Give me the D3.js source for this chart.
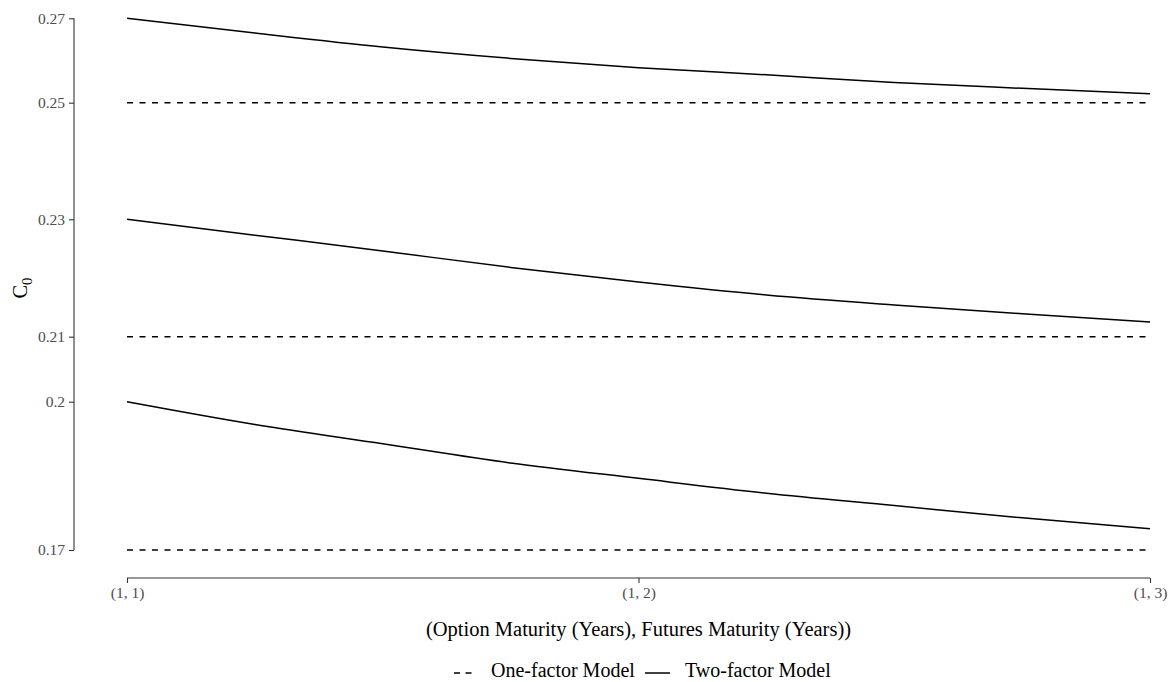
<!DOCTYPE html>
<html>
<head>
<meta charset="utf-8">
<script src="https://cdn.jsdelivr.net/npm/d3@7"></script>
<style>
  html, body { margin: 0; padding: 0; background: #ffffff; }
  svg { display: block; font-family: "Liberation Serif", "Times New Roman", serif; }
</style>
</head>
<body>
<svg id="chart" width="1172" height="682"></svg>
<script>
// Futures maturity (years); option maturity fixed at 1 year
const futuresMaturity = [1, 1.25, 1.5, 1.75, 2, 2.25, 2.5, 2.75, 3];
const xTickValues = [1, 2, 3];
const xTickLabels = ["(1, 1)", "(1, 2)", "(1, 3)"];

// Tick values of C0 shown on the vertical axis
const yTicks = [0.17, 0.2, 0.21, 0.23, 0.25, 0.27];

// One-factor model: price does not depend on futures maturity
const oneFactorLow  = [0.17, 0.17, 0.17, 0.17, 0.17, 0.17, 0.17, 0.17, 0.17];
const oneFactorMid  = [0.21, 0.21, 0.21, 0.21, 0.21, 0.21, 0.21, 0.21, 0.21];
const oneFactorHigh = [0.25, 0.25, 0.25, 0.25, 0.25, 0.25, 0.25, 0.25, 0.25];

// Two-factor model
const twoFactorLow  = [0.200, 0.1954, 0.1915, 0.1876, 0.1845, 0.1815, 0.1790, 0.1765, 0.1743];
const twoFactorMid  = [0.230, 0.2273, 0.2246, 0.2218, 0.2193, 0.2171, 0.2154, 0.2139, 0.2125];
const twoFactorHigh = [0.270, 0.2665, 0.2632, 0.2605, 0.2583, 0.2566, 0.2548, 0.2534, 0.2521];

const legendLabels = ["One-factor Model", "Two-factor Model"];

// ---- layout ----
const svg = d3.select("#chart");
const plotLeft = 127, plotRight = 1150;
const plotTop = 18.3, plotBottom = 550;
const plotH = plotBottom - plotTop;
// relative height of each break along the (non-uniform) vertical axis
const yBreakFrac = [0, 0.2789, 0.4012, 0.6220, 0.8413, 1];

const x = d3.scaleLinear().domain([1, 3]).range([plotLeft, plotRight]);
const y = d3.scaleLinear()
  .domain(yTicks)
  .range(yBreakFrac.map(f => plotBottom - f * plotH));

const line = d3.line()
  .x((d, i) => x(futuresMaturity[i]))
  .y(d => y(d))
  .curve(d3.curveMonotoneX);

// ---- axes ----
const yAxisX = 74;
const yAxis = d3.axisLeft(y).tickValues(yTicks).tickFormat(d3.format("")).tickSize(5).tickPadding(4);
const gy = svg.append("g").attr("transform", `translate(${yAxisX},0)`).call(yAxis);
gy.attr("font-family", null).attr("font-size", null);
gy.select(".domain").remove();
gy.append("line").attr("x1", 0).attr("x2", 0).attr("y1", y(0.27)).attr("y2", y(0.17))
  .attr("stroke", "#333").attr("stroke-width", 1.1);
gy.selectAll(".tick line").attr("stroke", "#333").attr("stroke-width", 1.1);
gy.selectAll(".tick text").attr("fill", "#4d4d4d").style("font-size", "15.5px")
  .style("font-family", "Liberation Serif, serif");

const xAxisY = 578;
const xAxis = d3.axisBottom(x).tickValues(xTickValues)
  .tickFormat((d, i) => xTickLabels[i]).tickSize(5).tickPadding(4);
const gx = svg.append("g").attr("transform", `translate(0,${xAxisY})`).call(xAxis);
gx.attr("font-family", null).attr("font-size", null);
gx.select(".domain").remove();
gx.append("line").attr("x1", x(1)).attr("x2", x(3)).attr("y1", 0).attr("y2", 0)
  .attr("stroke", "#333").attr("stroke-width", 1.1);
gx.selectAll(".tick line").attr("stroke", "#333").attr("stroke-width", 1.1);
gx.selectAll(".tick text").attr("fill", "#4d4d4d").style("font-size", "15.5px")
  .style("font-family", "Liberation Serif, serif");

// axis titles
svg.append("text")
  .attr("x", (plotLeft + plotRight) / 2).attr("y", 636)
  .attr("text-anchor", "middle").style("font-size", "20.5px").attr("fill", "#000")
  .text("(Option Maturity (Years), Futures Maturity (Years))");

const yTitle = svg.append("text")
  .attr("transform", `translate(27,${(plotTop + plotBottom) / 2 + 4}) rotate(-90)`)
  .attr("text-anchor", "middle").style("font-size", "20.5px").attr("fill", "#000");
yTitle.append("tspan").text("C");
yTitle.append("tspan").attr("dy", 5).style("font-size", "14.5px").text("0");

// ---- series ----
const dashed = [oneFactorLow, oneFactorMid, oneFactorHigh];
const solid = [twoFactorLow, twoFactorMid, twoFactorHigh];

svg.append("g").selectAll("path").data(dashed).join("path")
  .attr("d", line).attr("fill", "none").attr("stroke", "#000")
  .attr("stroke-width", 1.5).attr("stroke-dasharray", "6,6.5");

svg.append("g").selectAll("path").data(solid).join("path")
  .attr("d", line).attr("fill", "none").attr("stroke", "#000")
  .attr("stroke-width", 1.5);

// ---- legend ----
const legY = 673;
const leg = svg.append("g");
leg.append("line").attr("x1", 454).attr("x2", 477).attr("y1", legY).attr("y2", legY)
  .attr("stroke", "#000").attr("stroke-width", 1.5).attr("stroke-dasharray", "6,5.5");
leg.append("text").attr("x", 491).attr("y", legY + 4).style("font-size", "20px")
  .text(legendLabels[0]);
leg.append("line").attr("x1", 645).attr("x2", 670).attr("y1", legY).attr("y2", legY)
  .attr("stroke", "#000").attr("stroke-width", 1.5);
leg.append("text").attr("x", 685).attr("y", legY + 4).style("font-size", "20px")
  .text(legendLabels[1]);
</script>
</body>
</html>
